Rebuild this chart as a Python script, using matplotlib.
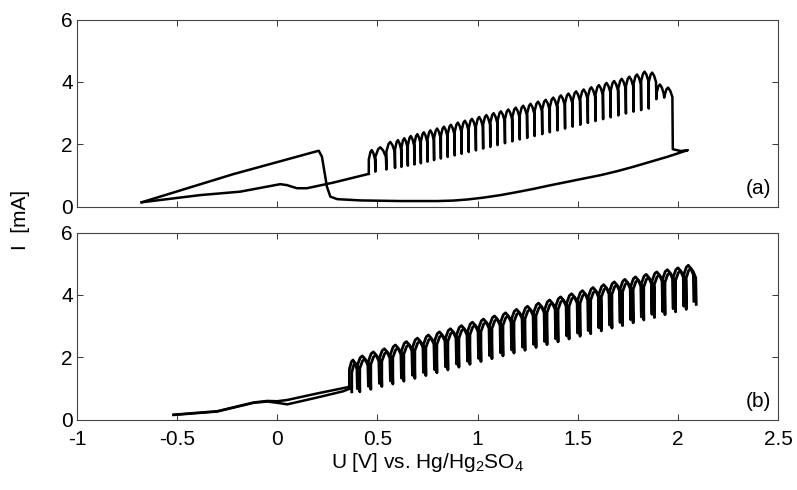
import numpy as np
import matplotlib
matplotlib.use("Agg")
import matplotlib.pyplot as plt

plt.rcParams["font.family"] = ["Liberation Sans", "DejaVu Sans"]
plt.rcParams["mathtext.fontset"] = "custom"
plt.rcParams["mathtext.rm"] = "Liberation Sans"
plt.rcParams["mathtext.it"] = "Liberation Sans"

# ---- panel (a): single scan ----
a_fwd_u = [-0.677, -0.385, -0.185, -0.052, 0.015, 0.048, 0.098, 0.148, 0.28, 0.457]
a_fwd_i = [0.15, 0.38, 0.49, 0.65, 0.73, 0.70, 0.60, 0.60, 0.78, 1.06]

a_drop_u = [0.490, 0.545, 0.588, 0.620, 0.652, 0.685, 0.717, 0.750, 0.783, 0.817,
            0.851, 0.886, 0.921, 0.956, 0.992, 1.028, 1.064, 1.100, 1.137, 1.174,
            1.211, 1.248, 1.285, 1.323, 1.361, 1.399, 1.437, 1.475, 1.513, 1.551,
            1.589, 1.627, 1.665, 1.703, 1.741, 1.779, 1.817, 1.855, 1.893, 1.932, 1.975]
a_peak_i = [1.82, 1.91, 2.08, 2.14, 2.20, 2.27, 2.33, 2.39, 2.45, 2.51,
            2.57, 2.63, 2.70, 2.76, 2.82, 2.88, 2.94, 3.00, 3.06, 3.12,
            3.18, 3.24, 3.30, 3.37, 3.43, 3.50, 3.57, 3.63, 3.70, 3.76,
            3.83, 3.90, 3.97, 4.03, 4.10, 4.17, 4.24, 4.33, 4.30, 3.92, 3.82]
a_low_i = [1.13, 1.20, 1.25, 1.28, 1.32, 1.36, 1.40, 1.45, 1.50, 1.55,
           1.60, 1.65, 1.70, 1.76, 1.81, 1.87, 1.92, 1.98, 2.04, 2.10,
           2.16, 2.21, 2.27, 2.33, 2.39, 2.45, 2.51, 2.57, 2.63, 2.69,
           2.75, 2.81, 2.87, 2.93, 2.99, 3.05, 3.10, 3.15, 3.45, 3.50, 1.85]

a_rev_u = [2.015, 2.05, 1.95, 1.86, 1.78, 1.70, 1.615, 1.53, 1.45, 1.36, 1.28, 1.20,
           1.115, 1.03, 0.95, 0.88, 0.80, 0.615, 0.415, 0.30, 0.265, 0.248, 0.223,
           0.207, -0.22, -0.677]
a_rev_i = [1.79, 1.82, 1.61, 1.44, 1.29, 1.15, 1.02, 0.91, 0.81, 0.69, 0.58, 0.48,
           0.38, 0.30, 0.24, 0.205, 0.19, 0.19, 0.21, 0.25, 0.33, 0.65, 1.61,
           1.80, 1.05, 0.15]

# ---- panel (b): repeated scans ----
b_fwd_u = [-0.518, -0.30, -0.118, -0.05, 0.0, 0.05, 0.20, 0.33, 0.36]
b_fwd_i = [0.16, 0.27, 0.55, 0.59, 0.55, 0.50, 0.72, 0.92, 1.00]
b_rev_u = [0.36, 0.20, 0.05, 0.0, -0.05, -0.118, -0.30, -0.518]
b_rev_i = [1.06, 0.85, 0.64, 0.60, 0.61, 0.56, 0.28, 0.17]

b_drop_u = [0.400, 0.455, 0.510, 0.565, 0.620, 0.675, 0.730, 0.785, 0.840, 0.895,
            0.950, 1.005, 1.060, 1.115, 1.170, 1.225, 1.280, 1.335, 1.390, 1.445,
            1.500, 1.553, 1.606, 1.659, 1.712, 1.765, 1.818, 1.871, 1.924, 1.977,
            2.030, 2.080]
b_peak_i = [1.92, 2.05, 2.18, 2.28, 2.40, 2.51, 2.62, 2.72, 2.82, 2.92,
            3.02, 3.13, 3.23, 3.33, 3.43, 3.54, 3.64, 3.74, 3.84, 3.94,
            4.04, 4.14, 4.24, 4.33, 4.42, 4.50, 4.58, 4.66, 4.74, 4.81,
            4.87, 4.95]
b_low_i = [1.00, 1.08, 1.17, 1.25, 1.34, 1.43, 1.52, 1.61, 1.70, 1.79,
           1.88, 1.97, 2.06, 2.15, 2.24, 2.33, 2.42, 2.51, 2.60, 2.69,
           2.78, 2.86, 2.95, 3.04, 3.12, 3.21, 3.30, 3.38, 3.47, 3.56,
           3.64, 3.80]


def teeth(u0, i0, drops, peaks, lows):
    # arch up to each peak, then the sharp current drop
    xs, ys = [u0], [i0]
    prev = u0
    for d, h, l in zip(drops, peaks, lows):
        w = d - prev
        xs += [prev, prev + 0.25 * w, prev + 0.45 * w, prev + 0.7 * w, d - 0.05 * w, d]
        ys += [h - 0.3, h - 0.06, h, h - 0.1, h - 0.3, l]
        prev = d
    return xs, ys


fig = plt.figure(figsize=(7.97, 4.90), dpi=100)
ax1 = fig.add_axes([0.0966, 0.5776, 0.8795, 0.3826])
ax2 = fig.add_axes([0.0966, 0.1429, 0.8795, 0.3826])

lw = 1.8
ax1.plot(a_fwd_u, a_fwd_i, color="black", lw=lw)
tx, ty = teeth(a_fwd_u[-1], a_fwd_i[-1], a_drop_u, a_peak_i, a_low_i)
ax1.plot(tx + a_rev_u, ty + a_rev_i, color="black", lw=lw, solid_joinstyle="round")

ax2.plot(b_fwd_u, b_fwd_i, color="black", lw=lw)
tx, ty = teeth(b_fwd_u[-1], b_fwd_i[-1], b_drop_u, b_peak_i, b_low_i)
ax2.plot(tx, ty, color="black", lw=2.0)
# second scan lies slightly offset on top of the first one
ax2.plot(np.array(tx) + 0.012, np.array(ty) - 0.1, color="black", lw=2.0)
ax2.plot(b_rev_u, b_rev_i, color="black", lw=lw)

fs = 15
for ax, tag in [(ax1, "(a)"), (ax2, "(b)")]:
    ax.set_xlim(-1, 2.5)
    ax.set_ylim(0, 6)
    ax.set_xticks([-1, -0.5, 0, 0.5, 1, 1.5, 2, 2.5])
    ax.set_yticks([0, 2, 4, 6])
    ax.tick_params(direction="in", length=4.5, width=0.7, color="#333333",
                   top=True, right=True, labelsize=fs, pad=3)
    for s in ax.spines.values():
        s.set_color("#444444")
        s.set_linewidth(0.8)
    ax.text(0.99, 0.05, tag, transform=ax.transAxes, ha="right", va="bottom", fontsize=fs)

ax1.set_xticklabels([])
ax2.set_xticklabels(["-1", "-0.5", "0", "0.5", "1", "1.5", "2", "2.5"])
ax2.tick_params(axis="x", pad=7)
ax2.set_xlabel("U [V] vs. Hg/Hg$_2$SO$_4$", fontsize=fs, labelpad=2)
fig.text(0.026, 0.551, "I  [mA]", rotation=90, ha="center", va="center", fontsize=fs)

fig.savefig("out.png", dpi=100)
